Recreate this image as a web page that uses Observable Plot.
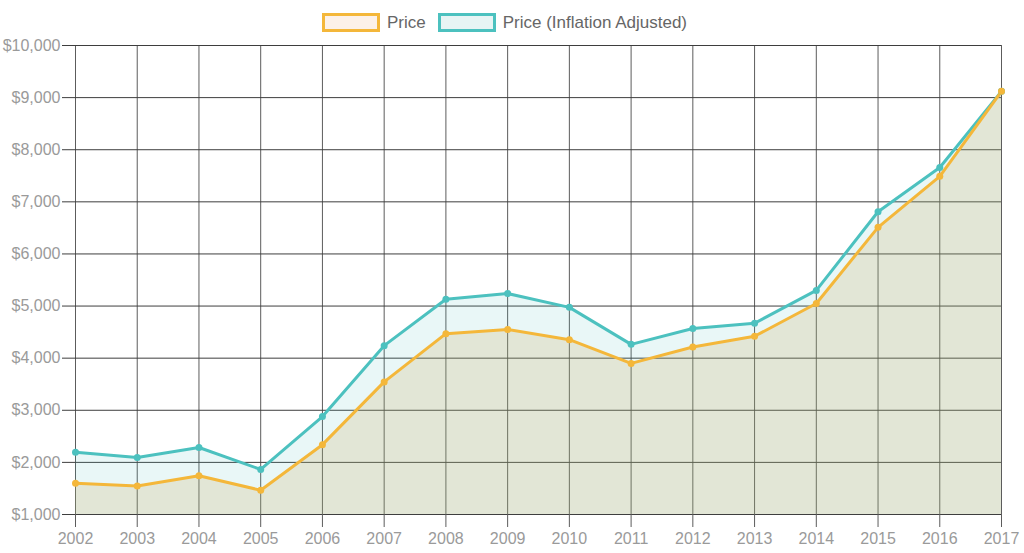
<!DOCTYPE html>
<html>
<head>
<meta charset="utf-8">
<script src="https://cdn.jsdelivr.net/npm/d3@7"></script>
<script src="https://cdn.jsdelivr.net/npm/@observablehq/plot@0.6"></script>
<style>
  html, body { margin: 0; padding: 0; background: #fff; }
  body { width: 1024px; height: 553px; overflow: hidden; font-family: "Liberation Sans", Arial, sans-serif; }
  #legend { height: 36px; display: flex; align-items: center; padding-left: 322px; padding-top: 9px; box-sizing: border-box; }
  .item { display: flex; align-items: center; margin-right: 12px; font-size: 17px; color: #666; }
  .box { width: 52px; height: 13px; border-width: 3px; border-style: solid; margin-right: 7px; }
</style>
</head>
<body>
<div id="legend"></div>
<div id="chart"></div>
<script>
const years = [2002, 2003, 2004, 2005, 2006, 2007, 2008, 2009, 2010, 2011, 2012, 2013, 2014, 2015, 2016, 2017];
const price = [1600, 1545, 1745, 1465, 2340, 3545, 4470, 4550, 4355, 3900, 4215, 4420, 5050, 6510, 7490, 9120];
const adjusted = [2195, 2095, 2285, 1865, 2880, 4240, 5130, 5240, 4975, 4265, 4570, 4670, 5300, 6810, 7660, 9120];
const yTicks = [1000, 2000, 3000, 4000, 5000, 6000, 7000, 8000, 9000, 10000];
const seriesNames = ["Price", "Price (Inflation Adjusted)"];
const seriesColors = ["#f4b73a", "#4cc1bf"];
const legendFills = ["#fcf1e9", "#e7f4f4"];

const data = years.map((y, i) => ({year: y, price: price[i], adjusted: adjusted[i]}));

const legend = document.getElementById("legend");
seriesNames.forEach((n, i) => {
  const it = document.createElement("div");
  it.className = "item";
  const b = document.createElement("span");
  b.className = "box";
  b.style.borderColor = seriesColors[i];
  b.style.background = legendFills[i];
  it.appendChild(b);
  const t = document.createElement("span");
  t.textContent = n;
  it.appendChild(t);
  legend.appendChild(it);
});

const fmt = d => "$" + d3.format(",")(d);

const chart = Plot.plot({
  width: 1024,
  height: 517,
  marginTop: 9,
  marginLeft: 75,
  marginRight: 23,
  marginBottom: 39,
  style: {fontFamily: "'Liberation Sans', Arial, sans-serif", fontSize: "16px", background: "#fff"},
  x: {type: "linear", domain: [2002, 2017], label: null},
  y: {domain: [1000, 10000], label: null},
  marks: [
    Plot.gridX(years, {stroke: "#5c5c5c", strokeOpacity: 1, strokeWidth: 1}),
    Plot.gridY(yTicks, {stroke: "#3e3e3e", strokeOpacity: 1, strokeWidth: 1}),
    Plot.areaY(data, {x: "year", y1: 1000, y2: "adjusted", fill: "#4bc0c0", fillOpacity: 0.12}),
    Plot.areaY(data, {x: "year", y1: 1000, y2: "price", fill: "rgb(198,165,85)", fillOpacity: 0.2}),
    Plot.axisX({ticks: years, tickFormat: "d", tickSize: 13, tickPadding: 5, stroke: "#5c5c5c", fill: "#9a9a9a", fontSize: 16, label: null}),
    Plot.axisY({ticks: yTicks, tickFormat: fmt, tickSize: 13, tickPadding: 2, stroke: "#3e3e3e", fill: "#9a9a9a", fontSize: 16, label: null}),
    Plot.lineY(data, {x: "year", y: "adjusted", stroke: seriesColors[1], strokeWidth: 3}),
    Plot.lineY(data, {x: "year", y: "price", stroke: seriesColors[0], strokeWidth: 3}),
    Plot.dot(data, {x: "year", y: "adjusted", r: 3.5, fill: seriesColors[1], stroke: null}),
    Plot.dot(data, {x: "year", y: "price", r: 3.5, fill: seriesColors[0], stroke: null})
  ]
});
document.getElementById("chart").appendChild(chart);
</script>
</body>
</html>
